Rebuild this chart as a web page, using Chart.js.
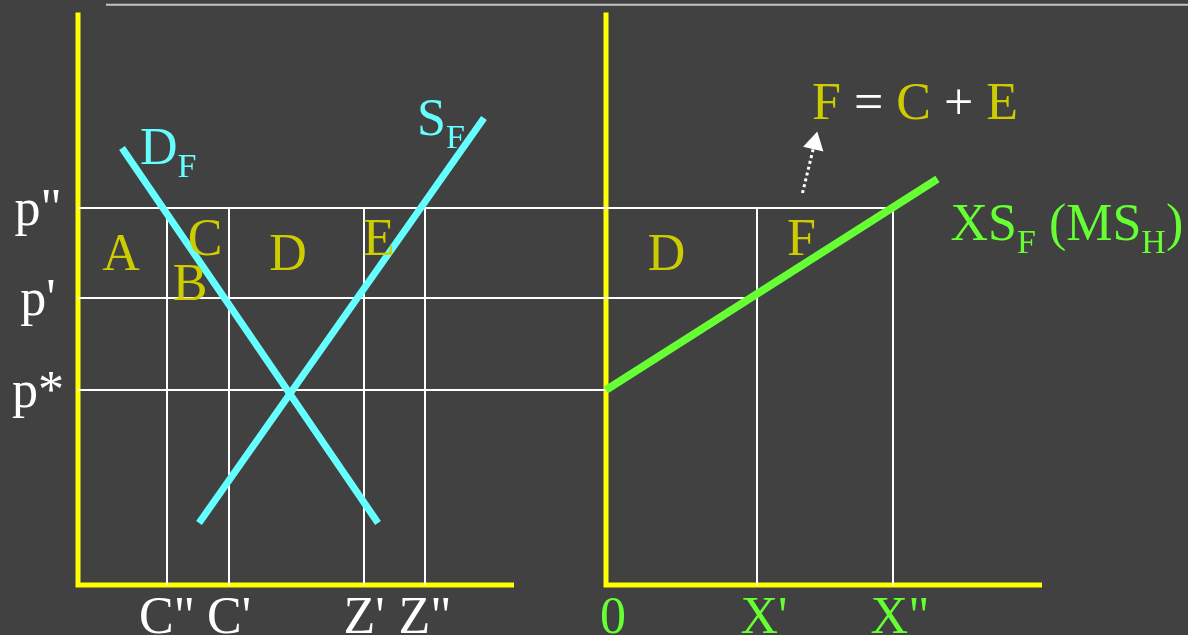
<!DOCTYPE html>
<html>
<head>
<meta charset="utf-8">
<script src="https://cdn.jsdelivr.net/npm/chart.js@4"></script>
<style>
	html, body { margin: 0; padding: 0; background: #414141; }
	#wrap { width: 1188px; height: 635px; }
</style>
</head>
<body>
<div id="wrap"><canvas id="trade-canvas" width="1188" height="635"></canvas></div>
<script>
// price levels: p*, p', p''
const priceLevels = [19.5, 28.7, 37.7];
const priceLabels = ["p*", "p'", "p\""];

// home market quantities: C'', C', Z', Z''
const homeQty = [8.9, 15.1, 28.6, 34.7];
const homeLabels = ["C\"", "C'", "Z'", "Z\""];

// export quantities (right panel): 0, X', X''
const exportQty = [0, 15.1, 28.7];
const exportLabels = ["0", "X'", "X\""];

// curves
const demandF = [{ x: 4.4, y: 43.7 }, { x: 30.0, y: 6.2 }];
const supplyF = [{ x: 12.1, y: 6.2 }, { x: 40.6, y: 46.7 }];
const excessSupplyF = [{ x: 0, y: 19.5 }, { x: 33.15, y: 40.6 }];

// area letters
const homeAreas = ["A", "B", "C", "D", "E"];
const exportAreas = ["D", "F"];

// layout (not data)
const exportOrigin = 52.8;
const axisTop = 57.25;
const axisLength = 43.6;
const homeAreaSpots = [[4.3, 31.5], [11.2, 28.5], [12.7, 33.0], [21.0, 31.5], [30.1, 33.0]];
const exportAreaSpots = [[6.05, 31.5], [19.55, 33.0]];
const arrowPts = [{ x: exportOrigin + 19.65, y: 39.2 }, { x: exportOrigin + 20.86, y: 44.17 }];

const WHITE = "#ffffff";
const YELLOW = "#ffff00";
const OLIVE = "#cccc00";
const CYAN = "#66ffff";
const GREEN = "#66ff33";
const FONT = "\"Liberation Serif\", serif";

function seg(data, color, width, extra) {
	return Object.assign({
		data: data,
		showLine: true,
		borderColor: color,
		borderWidth: width,
		pointRadius: 0,
		fill: false,
	}, extra || {});
}

const highP = priceLevels[2];
const datasets = [];

datasets.push(seg(arrowPts, WHITE, 3, {
	borderDash: [3, 3],
	pointRadius: [0, 12],
	pointStyle: "triangle",
	pointRotation: 13,
	pointBackgroundColor: WHITE,
	pointBorderWidth: 0,
}));
datasets.push(seg(excessSupplyF.map((p) => ({ x: exportOrigin + p.x, y: p.y })), GREEN, 8));
datasets.push(seg(demandF, CYAN, 7));
datasets.push(seg(supplyF, CYAN, 7));

// guide lines
priceLevels.forEach((p, i) => {
	datasets.push(seg([{ x: 0, y: p }, { x: exportOrigin + exportQty[i], y: p }], WHITE, 2));
});
homeQty.forEach((q) => {
	datasets.push(seg([{ x: q, y: 0 }, { x: q, y: highP }], WHITE, 2));
});
exportQty.slice(1).forEach((q) => {
	datasets.push(seg([{ x: exportOrigin + q, y: 0 }, { x: exportOrigin + q, y: highP }], WHITE, 2));
});

// axes
datasets.push(seg([{ x: 0, y: axisTop }, { x: 0, y: 0 }, { x: axisLength, y: 0 }], YELLOW, 5, { borderJoinStyle: "miter" }));
datasets.push(seg([{ x: exportOrigin, y: axisTop }, { x: exportOrigin, y: 0 }, { x: exportOrigin + axisLength, y: 0 }], YELLOW, 5, { borderJoinStyle: "miter" }));

// slide rule at top
datasets.push(seg([{ x: 2.8, y: 58.03 }, { x: 111, y: 58.03 }], "#c4c4c4", 2));

function runText(ctx, x0, y0, parts) {
	let x = x0;
	parts.forEach((p) => {
		ctx.font = (p.sub ? "34px " : "52px ") + FONT;
		ctx.fillStyle = p.c;
		ctx.fillText(p.t, x, y0 + (p.sub ? 13 : 0));
		x += ctx.measureText(p.t).width;
	});
}

const textLayer = {
	id: "textLayer",
	afterDatasetsDraw(chart) {
		const ctx = chart.ctx;
		const sx = chart.scales.x;
		const sy = chart.scales.y;
		ctx.save();
		ctx.textBaseline = "alphabetic";
		ctx.font = "52px " + FONT;

		// price tick labels
		ctx.textAlign = "center";
		ctx.fillStyle = WHITE;
		priceLevels.forEach((p, i) => {
			ctx.fillText(priceLabels[i], 38, sy.getPixelForValue(p) + 17);
		});
		const base = sy.getPixelForValue(0) + 48;
		homeQty.forEach((q, i) => {
			ctx.fillText(homeLabels[i], sx.getPixelForValue(q), base);
		});
		ctx.fillStyle = GREEN;
		exportQty.forEach((q, i) => {
			ctx.fillText(exportLabels[i], sx.getPixelForValue(exportOrigin + q) + 7, base);
		});

		// area letters
		ctx.fillStyle = OLIVE;
		homeAreas.forEach((t, i) => {
			ctx.fillText(t, sx.getPixelForValue(homeAreaSpots[i][0]), sy.getPixelForValue(homeAreaSpots[i][1]));
		});
		exportAreas.forEach((t, i) => {
			ctx.fillText(t, sx.getPixelForValue(exportOrigin + exportAreaSpots[i][0]), sy.getPixelForValue(exportAreaSpots[i][1]));
		});

		// curve labels
		ctx.textAlign = "left";
		runText(ctx, sx.getPixelForValue(6.2), sy.getPixelForValue(42.1), [
			{ t: "D", c: CYAN }, { t: "F", c: CYAN, sub: true },
		]);
		runText(ctx, sx.getPixelForValue(33.9), sy.getPixelForValue(45.0), [
			{ t: "S", c: CYAN }, { t: "F", c: CYAN, sub: true },
		]);
		runText(ctx, sx.getPixelForValue(exportOrigin + 34.45), sy.getPixelForValue(34.5), [
			{ t: "XS", c: GREEN }, { t: "F", c: GREEN, sub: true },
			{ t: " (MS", c: GREEN }, { t: "H", c: GREEN, sub: true }, { t: ")", c: GREEN },
		]);
		runText(ctx, sx.getPixelForValue(exportOrigin + 20.6), sy.getPixelForValue(46.6), [
			{ t: "F", c: OLIVE }, { t: " = ", c: WHITE }, { t: "C", c: OLIVE },
			{ t: " + ", c: WHITE }, { t: "E", c: OLIVE },
		]);
		ctx.restore();
	},
};

const tradeCanvas = document.getElementById("trade-canvas").getContext("2d");

const tradeChart = new Chart(tradeCanvas, {
	type: "scatter",
	data: { datasets: datasets },
	options: {
		responsive: false,
		animation: false,
		devicePixelRatio: 1,
		layout: { padding: 0, autoPadding: false },
		plugins: {
			legend: { display: false },
			tooltip: { enabled: false },
		},
		scales: {
			x: { type: "linear", min: -7.8, max: 111.0, display: false },
			y: { type: "linear", min: -5.0, max: 58.5, display: false },
		},
	},
	plugins: [textLayer],
});
</script>
</body>
</html>
